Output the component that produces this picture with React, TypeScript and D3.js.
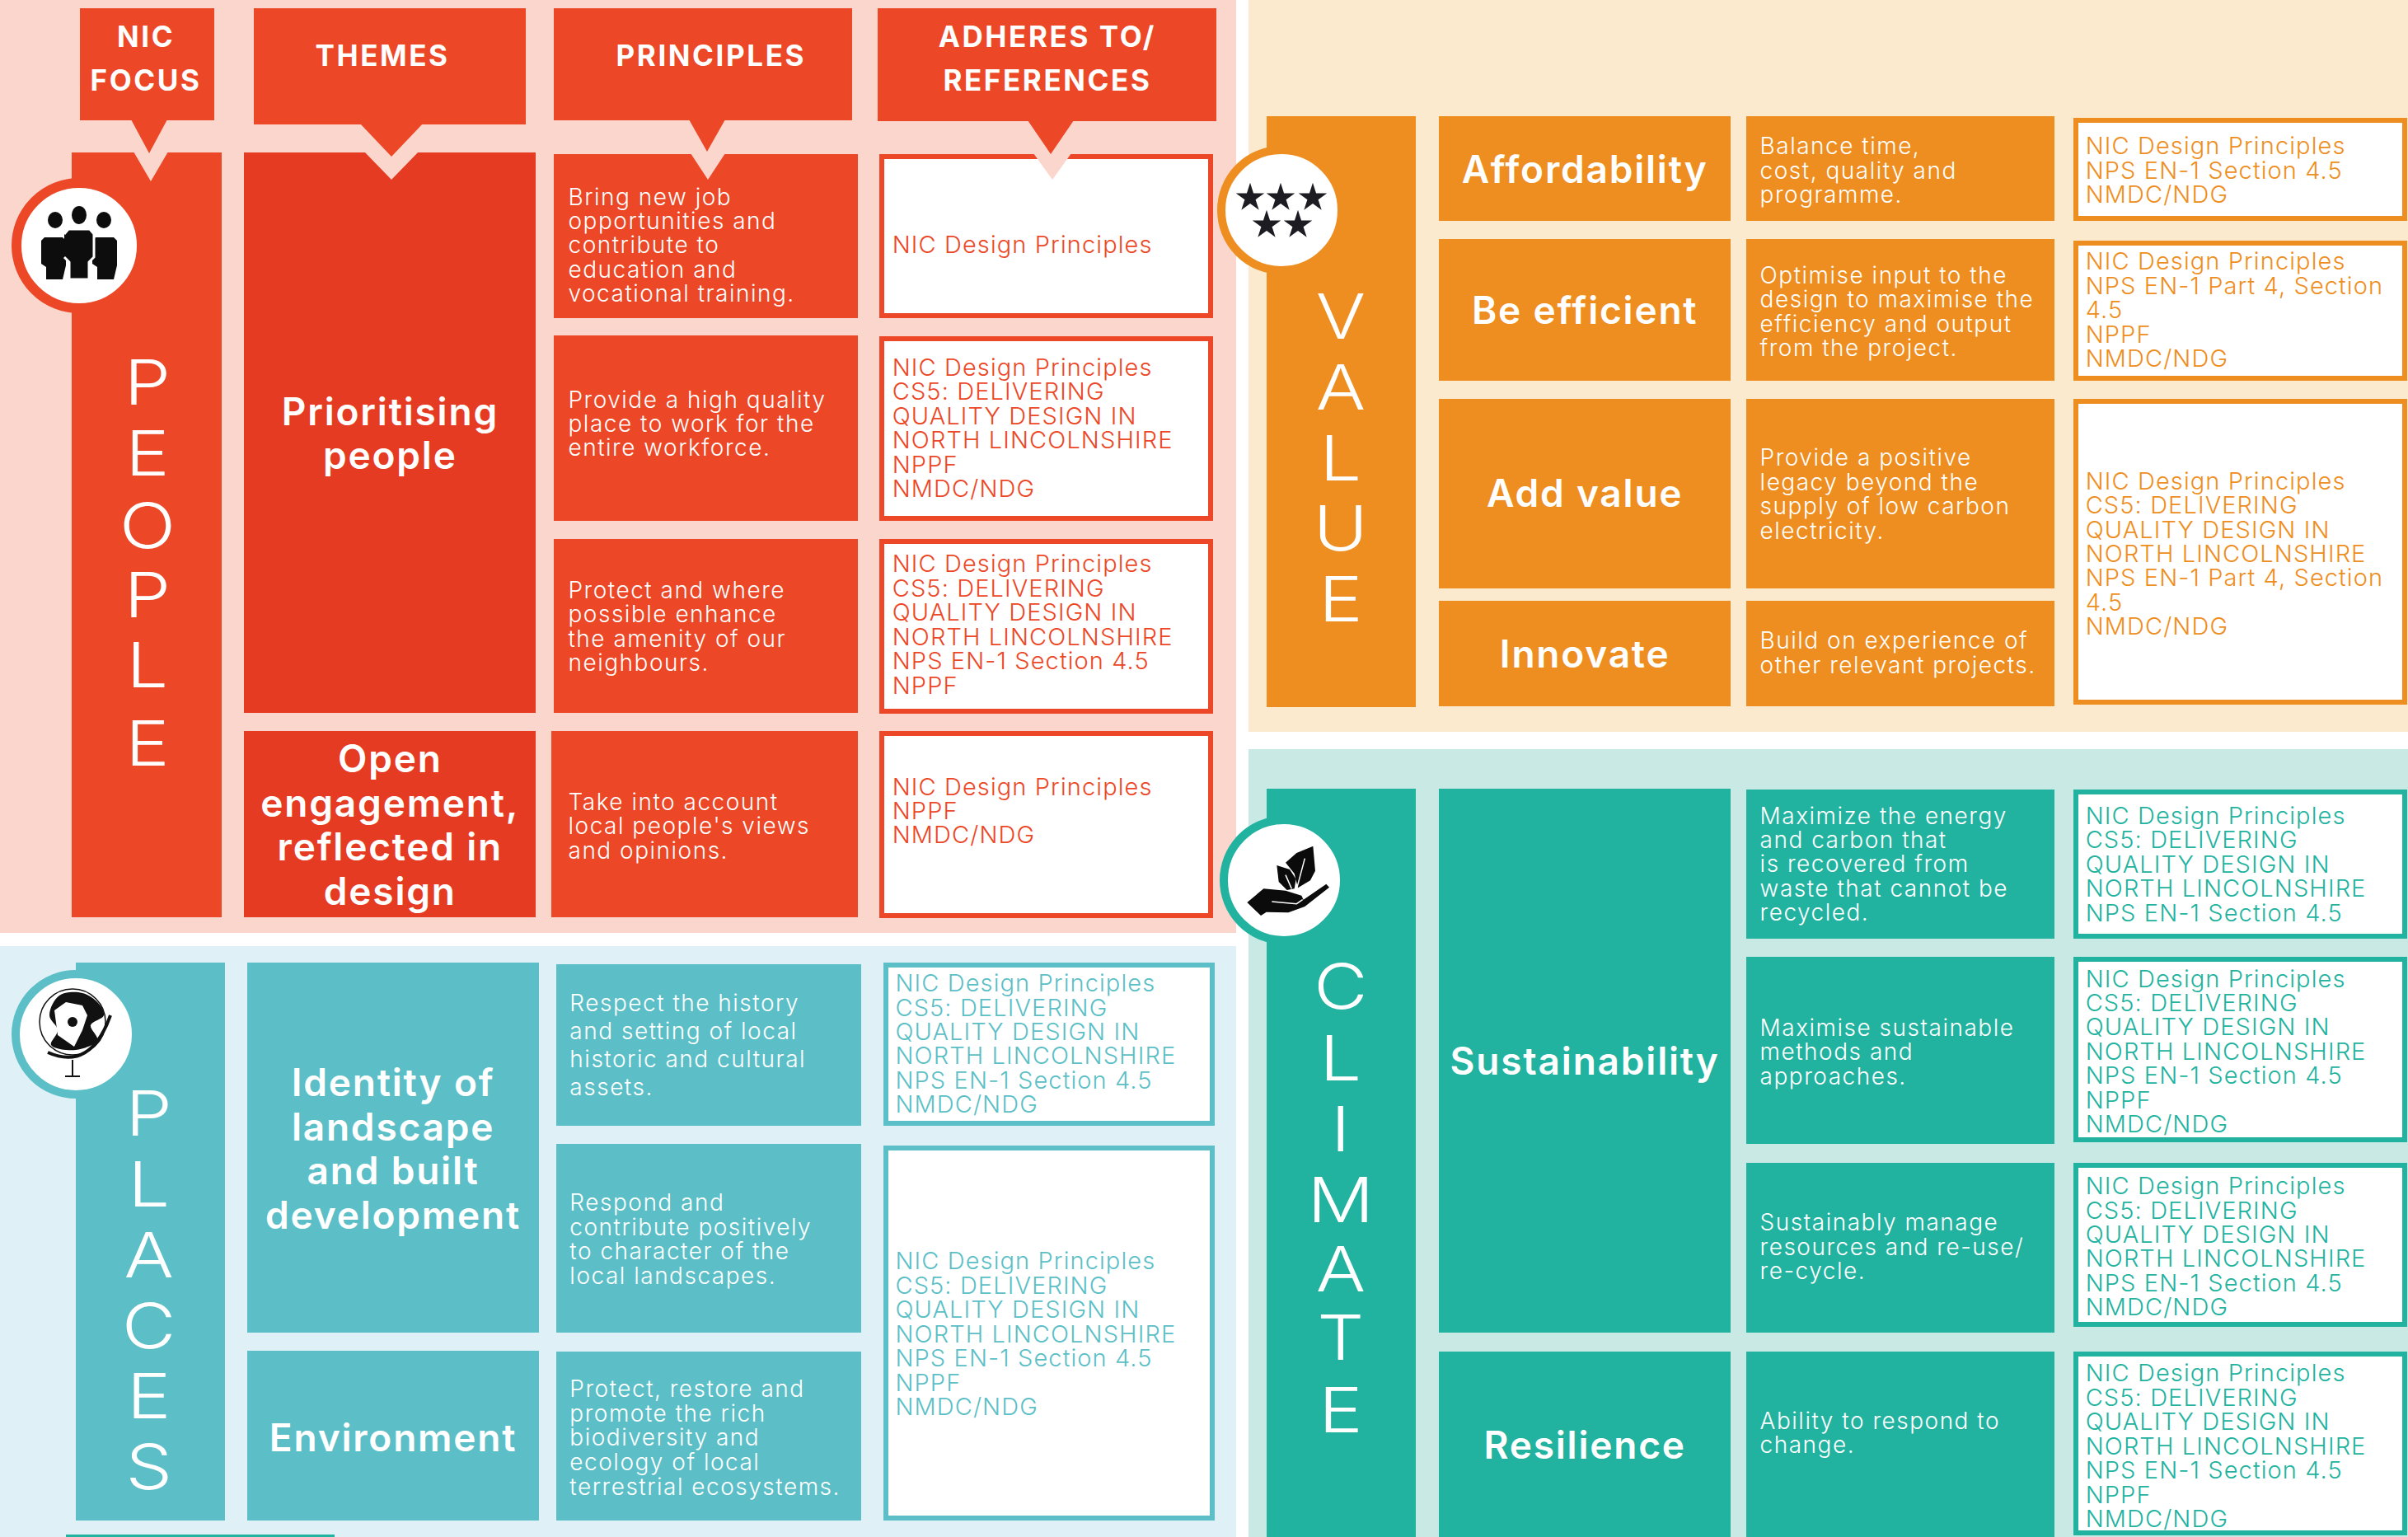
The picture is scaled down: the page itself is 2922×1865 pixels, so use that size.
import React from "react";
import * as d3 from "d3";

const W = 2922;
const H = 1865;
const FONT = "Inter, 'Noto Sans', sans-serif";

// picture units (the 1568 wide view) to page pixels, used for text positions
const u = d3.scaleLinear().domain([0, 1568]).range([0, W]);

const headers = [["NIC", "FOCUS"], ["THEMES"], ["PRINCIPLES"], ["ADHERES TO/", "REFERENCES"]];

const peopleThemes = [["Prioritising", "people"], ["Open", "engagement,", "reflected in", "design"]];
const peoplePrinciples = [
  ["Bring new job", "opportunities and", "contribute to", "education and", "vocational training."],
  ["Provide a high quality", "place to work for the", "entire workforce."],
  ["Protect and where", "possible enhance", "the amenity of our", "neighbours."],
  ["Take into account", "local people's views", "and opinions."],
];
const peopleRefs = [
  ["NIC Design Principles"],
  ["NIC Design Principles", "CS5: DELIVERING", "QUALITY DESIGN IN", "NORTH LINCOLNSHIRE", "NPPF", "NMDC/NDG"],
  ["NIC Design Principles", "CS5: DELIVERING", "QUALITY DESIGN IN", "NORTH LINCOLNSHIRE", "NPS EN-1 Section 4.5", "NPPF"],
  ["NIC Design Principles", "NPPF", "NMDC/NDG"],
];

const valueThemes = [["Affordability"], ["Be efficient"], ["Add value"], ["Innovate"]];
const valuePrinciples = [
  ["Balance time,", "cost, quality and", "programme."],
  ["Optimise input to the", "design to maximise the", "efficiency and output", "from the project."],
  ["Provide a positive", "legacy beyond the", "supply of low carbon", "electricity."],
  ["Build on experience of", "other relevant projects."],
];
const valueRefs = [
  ["NIC Design Principles", "NPS EN-1 Section 4.5", "NMDC/NDG"],
  ["NIC Design Principles", "NPS EN-1 Part 4, Section", "4.5", "NPPF", "NMDC/NDG"],
  ["NIC Design Principles", "CS5: DELIVERING", "QUALITY DESIGN IN", "NORTH LINCOLNSHIRE", "NPS EN-1 Part 4, Section", "4.5", "NMDC/NDG"],
];

const climateThemes = [["Sustainability"], ["Resilience"]];
const climatePrinciples = [
  ["Maximize the energy", "and carbon that", "is recovered from", "waste that cannot be", "recycled."],
  ["Maximise sustainable", "methods and", "approaches."],
  ["Sustainably manage", "resources and re-use/", "re-cycle."],
  ["Ability to respond to", "change."],
];
const climateRefs = [
  ["NIC Design Principles", "CS5: DELIVERING", "QUALITY DESIGN IN", "NORTH LINCOLNSHIRE", "NPS EN-1 Section 4.5"],
  ["NIC Design Principles", "CS5: DELIVERING", "QUALITY DESIGN IN", "NORTH LINCOLNSHIRE", "NPS EN-1 Section 4.5", "NPPF", "NMDC/NDG"],
  ["NIC Design Principles", "CS5: DELIVERING", "QUALITY DESIGN IN", "NORTH LINCOLNSHIRE", "NPS EN-1 Section 4.5", "NMDC/NDG"],
  ["NIC Design Principles", "CS5: DELIVERING", "QUALITY DESIGN IN", "NORTH LINCOLNSHIRE", "NPS EN-1 Section 4.5", "NPPF", "NMDC/NDG"],
];

const placesThemes = [["Identity of", "landscape", "and built", "development"], ["Environment"]];
const placesPrinciples = [
  ["Respect the history", "and setting of local", "historic and cultural", "assets."],
  ["Respond and", "contribute positively", "to character of the", "local landscapes."],
  ["Protect, restore and", "promote the rich", "biodiversity and", "ecology of local", "terrestrial ecosystems."],
];
const placesRefs = [
  ["NIC Design Principles", "CS5: DELIVERING", "QUALITY DESIGN IN", "NORTH LINCOLNSHIRE", "NPS EN-1 Section 4.5", "NMDC/NDG"],
  ["NIC Design Principles", "CS5: DELIVERING", "QUALITY DESIGN IN", "NORTH LINCOLNSHIRE", "NPS EN-1 Section 4.5", "NPPF", "NMDC/NDG"],
];

const polygon = d3.line();
const smooth = d3.line().curve(d3.curveCatmullRomClosed.alpha(0.5));

function Lines({ lines, x, first, step, size, weight, fill, anchor = "start", spacing = 0 }: any) {
  return (
    <g fontFamily={FONT} fontSize={size} fontWeight={weight} fill={fill} textAnchor={anchor} letterSpacing={spacing}>
      {lines.map((l: string, i: number) => (
        <text key={i} x={x} y={u(first + i * step)} dy="0.36em">
          {l}
        </text>
      ))}
    </g>
  );
}

// one coloured panel: background, focus column, then the three columns of cells
function Panel({ p }: any) {
  return (
    <g>
      <rect x={p.bg[0]} y={p.bg[1]} width={p.bg[2] - p.bg[0]} height={p.bg[3] - p.bg[1]} fill={p.bgColor} />
      <rect x={p.col[0]} y={p.col[1]} width={p.col[2] - p.col[0]} height={p.col[3] - p.col[1]} fill={p.color} />
      {p.themeRows.map((r: number[], i: number) => (
        <rect key={i} x={p.themeX[0]} y={r[0]} width={p.themeX[1] - p.themeX[0]} height={r[1] - r[0]} fill={p.themeColor} />
      ))}
      {p.principleRows.map((r: number[], i: number) => {
        const x0 = r[2] ?? p.principleX[0];
        return <rect key={i} x={x0} y={r[0]} width={p.principleX[1] - x0} height={r[1] - r[0]} fill={p.color} />;
      })}
      {p.refRows.map((r: number[], i: number) => (
        <rect key={i} x={p.refX[0] + 3} y={r[0] + 3} width={p.refX[1] - p.refX[0] - 6} height={r[1] - r[0] - 6} fill="#fff" stroke={p.color} strokeWidth={6} />
      ))}
    </g>
  );
}

function PanelText({ p }: any) {
  return (
    <g>
      {p.letters.map((c: string, i: number) => (
        <text
          key={i}
          transform={`translate(${u(p.letterX)},${u(p.letterY[i])}) scale(1.18,1)`}
          dy="0.36em"
          textAnchor="middle"
          fontFamily={FONT}
          fontWeight={300}
          fontSize={76}
          fill="#fff"
        >
          {c}
        </text>
      ))}
      {p.themes.map((t: string[], i: number) => (
        <Lines key={i} lines={t} x={u(p.themeTextX)} first={p.themeY[i]} step={28.7} size={46} weight={600} fill="#fff" anchor="middle" spacing={1.8} />
      ))}
      {p.principles.map((t: string[], i: number) => (
        <Lines key={i} lines={t} x={u(p.principleTextX)} first={p.principleY[i]} step={p.principleStep?.[i] ?? 15.8} size={28} weight={300} fill="#fff" spacing={1.5} />
      ))}
      {p.refs.map((t: string[], i: number) => (
        <Lines key={i} lines={t} x={u(p.refTextX)} first={p.refY[i]} step={15.8} size={29} weight={300} fill={p.color} spacing={1.1} />
      ))}
    </g>
  );
}

const panels = [
  {
    bg: [0, 0, 1500, 1132], bgColor: "#fbd6cd", color: "#ec4726", themeColor: "#e63b23",
    col: [87, 185, 269, 1113],
    themeX: [296, 650], themeRows: [[185, 865], [887, 1113]],
    principleX: [672, 1041], principleRows: [[187, 386], [407, 632], [654, 865], [887, 1113, 669]],
    refX: [1067, 1472], refRows: [[187, 386], [408, 632], [654, 866], [887, 1114]],
    letters: ["P", "E", "O", "P", "L", "E"], letterX: 96, letterY: [249, 295, 342, 387, 433, 484],
    themes: peopleThemes, themeTextX: 254, themeY: [268, 494],
    principles: peoplePrinciples, principleTextX: 370, principleY: [128, 260, 384, 522],
    refs: peopleRefs, refTextX: 581, refY: [159, 239, 367, 512],
  },
  {
    bg: [1515, 0, W, 888], bgColor: "#fceacf", color: "#ee8e21", themeColor: "#ee8e21",
    col: [1537, 141, 1718, 858],
    themeX: [1746, 2100], themeRows: [[141, 268], [290, 462], [484, 714], [729, 857]],
    principleX: [2119, 2493], principleRows: [[141, 268], [290, 462], [484, 714], [729, 857]],
    refX: [2516, 2921], refRows: [[143, 268], [292, 462], [484, 855]],
    letters: ["V", "A", "L", "U", "E"], letterX: 873, letterY: [206, 252, 298, 344, 390],
    themes: valueThemes, themeTextX: 1032, themeY: [110, 202, 321, 426],
    principles: valuePrinciples, principleTextX: 1146, principleY: [95, 179, 298, 417],
    refs: valueRefs, refTextX: 1358, refY: [95, 170, 313],
  },
  {
    bg: [1515, 909, W, H], bgColor: "#c9e9e4", color: "#22b3a0", themeColor: "#22b3a0",
    col: [1537, 957, 1718, H],
    themeX: [1746, 2100], themeRows: [[957, 1617], [1640, H]],
    principleX: [2119, 2493], principleRows: [[958, 1139], [1161, 1388], [1411, 1617], [1640, H]],
    refX: [2516, 2921], refRows: [[958, 1139], [1161, 1386], [1411, 1610], [1640, 1863]],
    letters: ["C", "L", "I", "M", "A", "T", "E"], letterX: 873, letterY: [642, 689, 735, 781, 826, 871, 918],
    themes: climateThemes, themeTextX: 1032, themeY: [691, 941],
    principles: climatePrinciples, principleTextX: 1146, principleY: [531, 669, 796, 925],
    refs: climateRefs, refTextX: 1358, refY: [531, 637, 772, 894],
  },
  {
    bg: [0, 1148, 1500, H], bgColor: "#dff0f6", color: "#5cbfc7", themeColor: "#5cbfc7",
    col: [92, 1168, 273, 1845],
    themeX: [300, 654], themeRows: [[1168, 1617], [1639, 1845]],
    principleX: [675, 1045], principleRows: [[1170, 1366], [1388, 1617], [1640, 1845]],
    refX: [1072, 1474], refRows: [[1168, 1366], [1390, 1845]],
    letters: ["P", "L", "A", "C", "E", "S"], letterX: 97, letterY: [725, 771, 817, 863, 909, 955],
    themes: placesThemes, themeTextX: 256, themeY: [705, 936],
    principles: placesPrinciples, principleTextX: 371, principleY: [653, 783, 904], principleStep: [18.3, 15.9, 16],
    refs: placesRefs, refTextX: 583, refY: [640, 821],
  },
];

const RED = "#ec4726";
const PEOPLE_BG = "#fbd6cd";

// header boxes and their pointers, [x0, x1, y1, tipX, tipY, base half width]
const headerBoxes = [
  [97, 260, 146, 181, 186, 22],
  [308, 638, 151, 475, 190, 38],
  [672, 1034, 146, 858, 184, 22],
  [1065, 1476, 147, 1275, 187, 28],
];
// notches cut in the top of the cells below
const notches = [
  [183, 220, 185, 21],
  [475, 218, 185, 33],
  [859, 218, 187, 21],
  [1277, 218, 187, 23],
];
const headerTextY = [[24, 52], [36], [36], [24, 52]];
const headerTextX = [95, 249, 463, 682];

const stars = [[1517, 240], [1554, 240], [1593, 240], [1537, 273], [1575, 273]];
const star = d3.symbol(d3.symbolStar, 370);

function Headers() {
  return (
    <g>
      {notches.map((n, i) => (
        <path key={i} fill={PEOPLE_BG} d={polygon([[n[0] - n[3], n[2] - 1], [n[0] + n[3], n[2] - 1], [n[0], n[1]]] as any)!} />
      ))}
      {headerBoxes.map((b, i) => (
        <g key={i}>
          <rect x={b[0]} y={10} width={b[1] - b[0]} height={b[2] - 10} fill={RED} />
          <path fill={RED} d={polygon([[b[3] - b[5], b[2] - 1], [b[3] + b[5], b[2] - 1], [b[3], b[4]]] as any)!} />
          {headers[i].map((t, j) => (
            <text key={j} x={u(headerTextX[i])} y={u(headerTextY[i][j])} dy="0.36em" textAnchor="middle" fontFamily={FONT} fontWeight={700} fontSize={35} letterSpacing={2.6} fill="#fff">
              {t}
            </text>
          ))}
        </g>
      ))}
    </g>
  );
}

function Badge({ cx, cy, color, r = 68, ring = 10 }: any) {
  return <circle cx={cx} cy={cy} r={r + ring / 2} fill="#fff" stroke={color} strokeWidth={ring} />;
}

function PeopleIcon() {
  const side = (dx: number) =>
    polygon([[50 + dx, 292], [54 + dx, 288], [76 + dx, 288], [80 + dx, 292], [80 + dx, 322], [76 + dx, 339], [56 + dx, 339], [56 + dx, 324], [50 + dx, 320]] as any)!;
  return (
    <g fill="#0d0d0d">
      <ellipse cx={67} cy={267} rx={9} ry={10} />
      <ellipse cx={96} cy={261} rx={9} ry={11} />
      <ellipse cx={126} cy={267} rx={9} ry={10} />
      <path d={side(0)} />
      <path d={side(62)} />
      <path stroke="#fff" strokeWidth={3} d={polygon([[78, 284], [83, 278], [109, 278], [114, 284], [114, 312], [108, 318], [108, 339], [84, 339], [84, 318], [78, 312]] as any)!} />
    </g>
  );
}

function GlobeIcon() {
  return (
    <g>
      <circle cx={88} cy={1240} r={40} fill="#fff" stroke="#111" strokeWidth={1.5} />
      <path fill="#111" d={smooth([[72, 1208], [100, 1205], [120, 1218], [126, 1232], [110, 1244], [118, 1262], [92, 1274], [62, 1268], [70, 1250], [60, 1232]] as any)!} />
      <path fill="#fff" d={polygon([[66, 1226], [80, 1216], [100, 1220], [106, 1232], [100, 1250], [90, 1270], [70, 1256]] as any)!} />
      <circle cx={88} cy={1240} r={6} fill="#111" />
      <path fill="none" stroke="#111" strokeWidth={4} d="M58 1277 Q110 1300 134 1232" />
      <path fill="none" stroke="#111" strokeWidth={2} d="M88 1286 V1306 M79 1306 H97" />
    </g>
  );
}

function HandIcon() {
  const ox = 1450;
  const oy = 900;
  const p = (pts: number[][]) => pts.map((q) => [ox + q[0] / 3, oy + q[1] / 3]) as any;
  return (
    <g>
      <path fill="#0b0b0b" d={polygon(p([[190, 585], [250, 535], [330, 542], [388, 560], [395, 575], [478, 518], [489, 530], [400, 600], [340, 622], [260, 620], [240, 633]]))!} />
      <path fill="#0b0b0b" d={polygon(p([[430, 380], [438, 470], [420, 505], [375, 532], [362, 480], [330, 440], [370, 405]]))!} />
      <path fill="#0b0b0b" d={polygon(p([[298, 450], [345, 465], [368, 500], [362, 535], [335, 540], [305, 510]]))!} />
      <path fill="none" stroke="#fff" strokeWidth={1.5} d={polygon(p([[280, 582], [370, 590], [392, 575]]))!} />
      <path fill="none" stroke="#fff" strokeWidth={1.5} d={polygon(p([[400, 425], [372, 530]]))!} />
      <path fill="none" stroke="#fff" strokeWidth={1.5} d={polygon(p([[330, 485], [352, 535]]))!} />
    </g>
  );
}

export default function App() {
  return (
    <svg width={W} height={H} viewBox={`0 0 ${W} ${H}`} style={{ position: "absolute", left: 0, top: 0, display: "block", background: "#fff" }}>
      {panels.map((p, i) => (
        <Panel key={i} p={p} />
      ))}
      <Headers />
      {panels.map((p, i) => (
        <PanelText key={i} p={p} />
      ))}
      <Badge cx={96} cy={298} color="#ec4726" r={70} ring={12} />
      <PeopleIcon />
      <Badge cx={1555} cy={255} color="#ee8e21" />
      <g fill="#1c1c22">
        {stars.map((s, i) => (
          <path key={i} d={star()!} transform={`translate(${s[0]},${s[1]})`} />
        ))}
      </g>
      <Badge cx={1558} cy={1068} color="#22b3a0" />
      <HandIcon />
      <Badge cx={92} cy={1255} color="#5cbfc7" />
      <GlobeIcon />
      <rect x={80} y={1862} width={326} height={3} fill="#22b3a0" />
    </svg>
  );
}
